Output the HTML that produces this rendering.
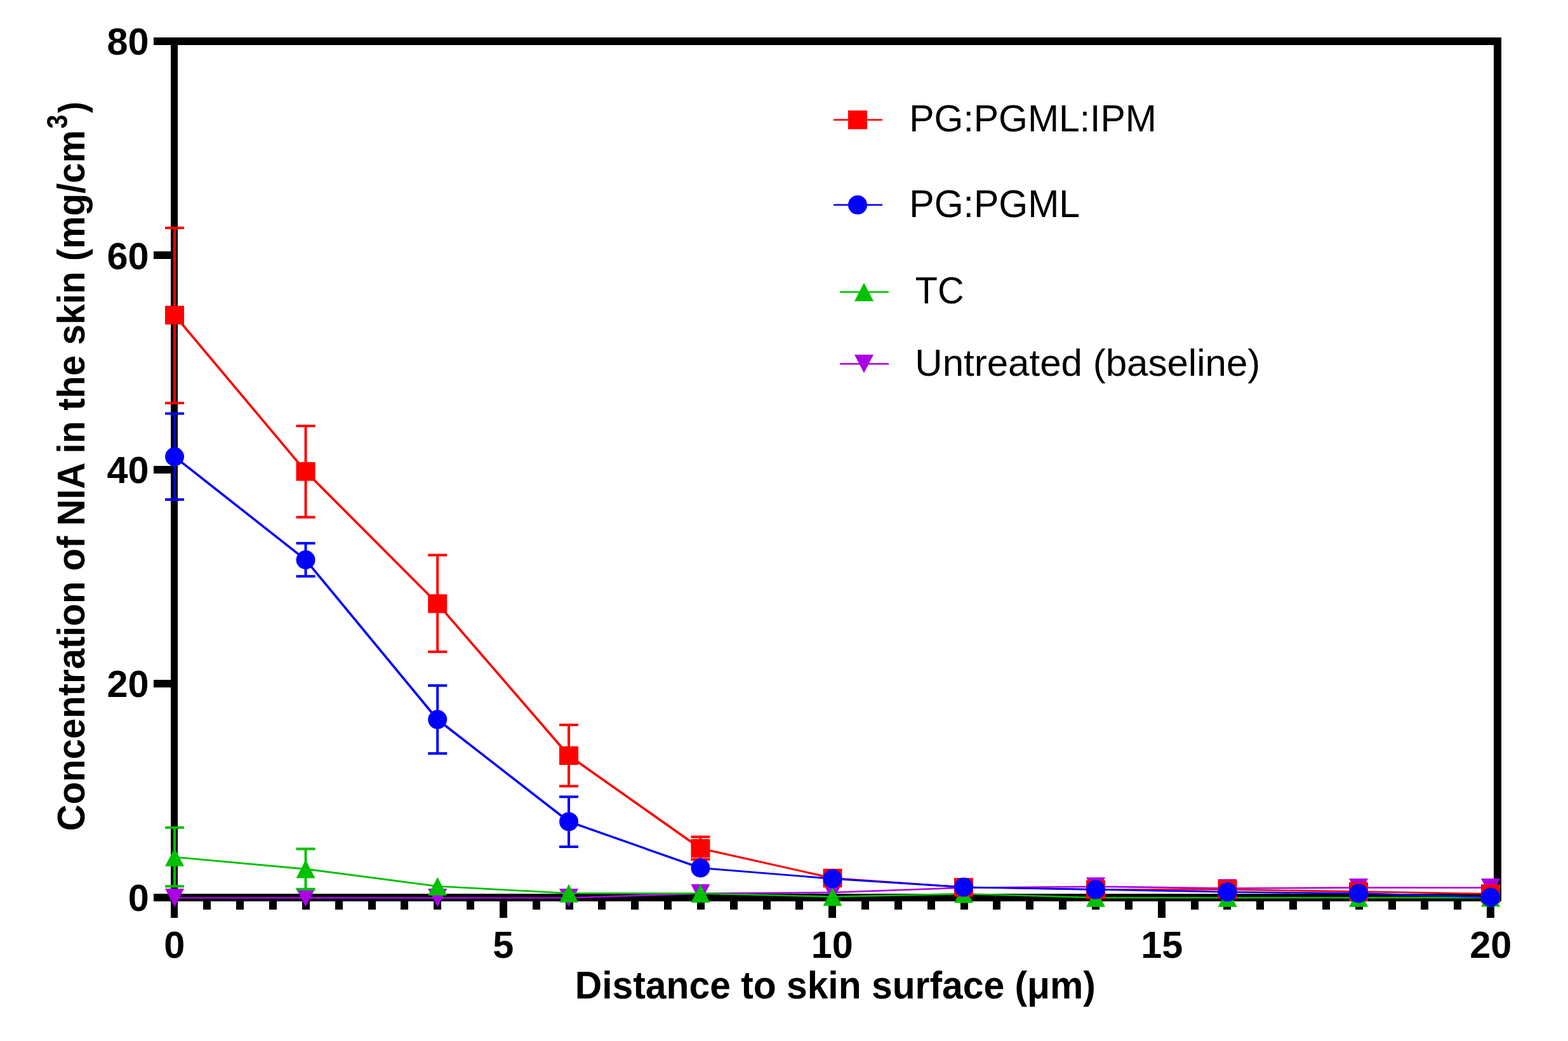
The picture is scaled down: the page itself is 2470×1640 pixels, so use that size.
<!DOCTYPE html>
<html><head><meta charset="utf-8"><title>NIA concentration in skin</title>
<style>
html,body{margin:0;padding:0;background:#fff;}
svg{display:block;}
</style></head>
<body>
<svg width="2470" height="1640" viewBox="0 0 2470 1640">
<rect width="2470" height="1640" fill="#fff"/>
<g shape-rendering="crispEdges">
<rect x="242" y="59" width="2123" height="12" fill="#000"/>
<rect x="2353" y="59" width="12" height="1361" fill="#000"/>
<rect x="242" y="1408" width="2123" height="12" fill="#000"/>
<rect x="269" y="59" width="11" height="1387" fill="#000"/>
<rect x="242" y="1070.8" width="30" height="12" fill="#000"/>
<rect x="242" y="733.5" width="30" height="12" fill="#000"/>
<rect x="242" y="396.2" width="30" height="12" fill="#000"/>
<rect x="320.3" y="1414" width="12" height="19" fill="#000"/>
<rect x="372.2" y="1414" width="12" height="19" fill="#000"/>
<rect x="424.0" y="1414" width="12" height="19" fill="#000"/>
<rect x="475.9" y="1414" width="12" height="19" fill="#000"/>
<rect x="527.7" y="1414" width="12" height="19" fill="#000"/>
<rect x="579.5" y="1414" width="12" height="19" fill="#000"/>
<rect x="631.4" y="1414" width="12" height="19" fill="#000"/>
<rect x="683.2" y="1414" width="12" height="19" fill="#000"/>
<rect x="735.0" y="1414" width="12" height="19" fill="#000"/>
<rect x="786.9" y="1414" width="12" height="32" fill="#000"/>
<rect x="838.7" y="1414" width="12" height="19" fill="#000"/>
<rect x="890.5" y="1414" width="12" height="19" fill="#000"/>
<rect x="942.4" y="1414" width="12" height="19" fill="#000"/>
<rect x="994.2" y="1414" width="12" height="19" fill="#000"/>
<rect x="1046.1" y="1414" width="12" height="19" fill="#000"/>
<rect x="1097.9" y="1414" width="12" height="19" fill="#000"/>
<rect x="1149.7" y="1414" width="12" height="19" fill="#000"/>
<rect x="1201.6" y="1414" width="12" height="19" fill="#000"/>
<rect x="1253.4" y="1414" width="12" height="19" fill="#000"/>
<rect x="1305.2" y="1414" width="12" height="32" fill="#000"/>
<rect x="1357.1" y="1414" width="12" height="19" fill="#000"/>
<rect x="1408.9" y="1414" width="12" height="19" fill="#000"/>
<rect x="1460.8" y="1414" width="12" height="19" fill="#000"/>
<rect x="1512.6" y="1414" width="12" height="19" fill="#000"/>
<rect x="1564.4" y="1414" width="12" height="19" fill="#000"/>
<rect x="1616.3" y="1414" width="12" height="19" fill="#000"/>
<rect x="1668.1" y="1414" width="12" height="19" fill="#000"/>
<rect x="1720.0" y="1414" width="12" height="19" fill="#000"/>
<rect x="1771.8" y="1414" width="12" height="19" fill="#000"/>
<rect x="1823.6" y="1414" width="12" height="32" fill="#000"/>
<rect x="1875.5" y="1414" width="12" height="19" fill="#000"/>
<rect x="1927.3" y="1414" width="12" height="19" fill="#000"/>
<rect x="1979.1" y="1414" width="12" height="19" fill="#000"/>
<rect x="2031.0" y="1414" width="12" height="19" fill="#000"/>
<rect x="2082.8" y="1414" width="12" height="19" fill="#000"/>
<rect x="2134.6" y="1414" width="12" height="19" fill="#000"/>
<rect x="2186.5" y="1414" width="12" height="19" fill="#000"/>
<rect x="2238.3" y="1414" width="12" height="19" fill="#000"/>
<rect x="2290.2" y="1414" width="12" height="19" fill="#000"/>
<rect x="2342.0" y="1414" width="12" height="32" fill="#000"/>
</g>
<g>
<path d="M273.70,1413.20 L480.20,1413.00 L482.80,1413.00 L482.80,1415.60 L276.30,1415.80 L273.70,1415.80Z M480.20,1413.00 L482.80,1413.00 L690.50,1413.30 L690.50,1415.90 L687.90,1415.90 L480.20,1415.60Z M687.90,1413.30 L894.70,1413.20 L897.30,1413.20 L897.30,1415.80 L690.50,1415.90 L687.90,1415.90Z M894.70,1413.20 L1102.10,1406.30 L1104.70,1406.30 L1104.70,1408.90 L897.30,1415.80 L894.70,1415.80Z M1102.10,1406.30 L1310.20,1404.70 L1312.80,1404.70 L1312.80,1407.30 L1104.70,1408.90 L1102.10,1408.90Z M1310.20,1404.70 L1516.70,1397.20 L1519.30,1397.20 L1519.30,1399.80 L1312.80,1407.30 L1310.20,1407.30Z M1516.70,1397.20 L1724.70,1395.40 L1727.30,1395.40 L1727.30,1398.00 L1519.30,1399.80 L1516.70,1399.80Z M1724.70,1395.40 L1727.30,1395.40 L1934.80,1398.20 L1934.80,1400.80 L1932.20,1400.80 L1724.70,1398.00Z M1932.20,1398.20 L2138.70,1397.10 L2141.30,1397.10 L2141.30,1399.70 L1934.80,1400.80 L1932.20,1400.80Z M2138.70,1397.10 L2141.30,1397.10 L2349.30,1397.20 L2349.30,1399.80 L2346.70,1399.80 L2138.70,1399.70Z" fill="#aa00e6"/>
<polygon points="260.0,1400.0 290.0,1400.0 275.0,1429.0" fill="#aa00e6"/>
<polygon points="466.5,1399.8 496.5,1399.8 481.5,1428.8" fill="#aa00e6"/>
<polygon points="674.2,1400.1 704.2,1400.1 689.2,1429.1" fill="#aa00e6"/>
<polygon points="881.0,1400.0 911.0,1400.0 896.0,1429.0" fill="#aa00e6"/>
<polygon points="1088.4,1393.1 1118.4,1393.1 1103.4,1422.1" fill="#aa00e6"/>
<polygon points="1296.5,1391.5 1326.5,1391.5 1311.5,1420.5" fill="#aa00e6"/>
<polygon points="1503.0,1384.0 1533.0,1384.0 1518.0,1413.0" fill="#aa00e6"/>
<polygon points="1711.0,1382.2 1741.0,1382.2 1726.0,1411.2" fill="#aa00e6"/>
<polygon points="1918.5,1385.0 1948.5,1385.0 1933.5,1414.0" fill="#aa00e6"/>
<polygon points="2125.0,1383.9 2155.0,1383.9 2140.0,1412.9" fill="#aa00e6"/>
<polygon points="2333.0,1384.0 2363.0,1384.0 2348.0,1413.0" fill="#aa00e6"/>
<path d="M273.70,1348.90 L276.30,1348.90 L482.80,1367.80 L482.80,1370.40 L480.20,1370.40 L273.70,1351.50Z M480.20,1367.80 L482.80,1367.80 L690.50,1394.90 L690.50,1397.50 L687.90,1397.50 L480.20,1370.40Z M687.90,1394.90 L690.50,1394.90 L897.30,1405.90 L897.30,1408.50 L894.70,1408.50 L687.90,1397.50Z M894.70,1405.90 L897.30,1405.90 L1104.70,1406.20 L1104.70,1408.80 L1102.10,1408.80 L894.70,1408.50Z M1102.10,1406.20 L1104.70,1406.20 L1312.80,1411.40 L1312.80,1414.00 L1310.20,1414.00 L1102.10,1408.80Z M1310.20,1411.40 L1516.70,1406.80 L1519.30,1406.80 L1519.30,1409.40 L1312.80,1414.00 L1310.20,1414.00Z M1516.70,1406.80 L1519.30,1406.80 L1727.30,1413.00 L1727.30,1415.60 L1724.70,1415.60 L1516.70,1409.40Z M1724.70,1413.00 L1934.80,1413.00 L1934.80,1415.60 L1724.70,1415.60Z M1932.20,1413.00 L2141.30,1413.00 L2141.30,1415.60 L1932.20,1415.60Z M2138.70,1413.00 L2346.70,1412.70 L2349.30,1412.70 L2349.30,1415.30 L2141.30,1415.60 L2138.70,1415.60Z" fill="#00c000"/>
<line x1="275.0" y1="1303.8" x2="275.0" y2="1396.3" stroke="#00c000" stroke-width="4"/>
<rect x="260.0" y="1301.8" width="30" height="4" fill="#00c000"/>
<rect x="260.0" y="1394.3" width="30" height="4" fill="#00c000"/>
<polygon points="275.0,1335.7 290.0,1364.7 260.0,1364.7" fill="#00c000"/>
<line x1="481.5" y1="1337.4" x2="481.5" y2="1400.7" stroke="#00c000" stroke-width="4"/>
<rect x="466.5" y="1335.4" width="30" height="4" fill="#00c000"/>
<rect x="466.5" y="1398.7" width="30" height="4" fill="#00c000"/>
<polygon points="481.5,1354.6 496.5,1383.6 466.5,1383.6" fill="#00c000"/>
<polygon points="689.2,1381.7 704.2,1410.7 674.2,1410.7" fill="#00c000"/>
<polygon points="896.0,1392.7 911.0,1421.7 881.0,1421.7" fill="#00c000"/>
<polygon points="1103.4,1393.0 1118.4,1422.0 1088.4,1422.0" fill="#00c000"/>
<polygon points="1311.5,1398.2 1326.5,1427.2 1296.5,1427.2" fill="#00c000"/>
<polygon points="1518.0,1393.6 1533.0,1422.6 1503.0,1422.6" fill="#00c000"/>
<polygon points="1726.0,1399.8 1741.0,1428.8 1711.0,1428.8" fill="#00c000"/>
<polygon points="1933.5,1399.8 1948.5,1428.8 1918.5,1428.8" fill="#00c000"/>
<polygon points="2140.0,1399.8 2155.0,1428.8 2125.0,1428.8" fill="#00c000"/>
<polygon points="2348.0,1399.5 2363.0,1428.5 2333.0,1428.5" fill="#00c000"/>
<path d="M273.70,495.20 L276.30,495.20 L482.80,741.50 L482.80,744.10 L480.20,744.10 L273.70,497.80Z M480.20,741.50 L482.80,741.50 L690.50,949.70 L690.50,952.30 L687.90,952.30 L480.20,744.10Z M687.90,949.70 L690.50,949.70 L897.30,1189.10 L897.30,1191.70 L894.70,1191.70 L687.90,952.30Z M894.70,1189.10 L897.30,1189.10 L1104.70,1335.30 L1104.70,1337.90 L1102.10,1337.90 L894.70,1191.70Z M1102.10,1335.30 L1104.70,1335.30 L1312.80,1382.10 L1312.80,1384.70 L1310.20,1384.70 L1102.10,1337.90Z M1310.20,1382.10 L1312.80,1382.10 L1519.30,1396.60 L1519.30,1399.20 L1516.70,1399.20 L1310.20,1384.70Z M1516.70,1396.60 L1519.30,1396.60 L1727.30,1400.10 L1727.30,1402.70 L1724.70,1402.70 L1516.70,1399.20Z M1724.70,1400.10 L1934.80,1400.10 L1934.80,1402.70 L1724.70,1402.70Z M1932.20,1400.10 L1934.80,1400.10 L2141.30,1403.30 L2141.30,1405.90 L2138.70,1405.90 L1932.20,1402.70Z M2138.70,1403.30 L2141.30,1403.30 L2349.30,1406.70 L2349.30,1409.30 L2346.70,1409.30 L2138.70,1405.90Z" fill="#ff0000"/>
<line x1="275.0" y1="359.0" x2="275.0" y2="635.0" stroke="#ff0000" stroke-width="4"/>
<rect x="260.0" y="357.0" width="30" height="4" fill="#ff0000"/>
<rect x="260.0" y="633.0" width="30" height="4" fill="#ff0000"/>
<rect x="260.00" y="481.75" width="30" height="29.5" fill="#ff0000"/>
<line x1="481.5" y1="671.0" x2="481.5" y2="814.8" stroke="#ff0000" stroke-width="4"/>
<rect x="466.5" y="669.0" width="30" height="4" fill="#ff0000"/>
<rect x="466.5" y="812.8" width="30" height="4" fill="#ff0000"/>
<rect x="466.50" y="728.05" width="30" height="29.5" fill="#ff0000"/>
<line x1="689.2" y1="874.5" x2="689.2" y2="1026.8" stroke="#ff0000" stroke-width="4"/>
<rect x="674.2" y="872.5" width="30" height="4" fill="#ff0000"/>
<rect x="674.2" y="1024.8" width="30" height="4" fill="#ff0000"/>
<rect x="674.20" y="936.25" width="30" height="29.5" fill="#ff0000"/>
<line x1="896.0" y1="1142.0" x2="896.0" y2="1238.5" stroke="#ff0000" stroke-width="4"/>
<rect x="881.0" y="1140.0" width="30" height="4" fill="#ff0000"/>
<rect x="881.0" y="1236.5" width="30" height="4" fill="#ff0000"/>
<rect x="881.00" y="1175.65" width="30" height="29.5" fill="#ff0000"/>
<line x1="1103.4" y1="1318.4" x2="1103.4" y2="1354.0" stroke="#ff0000" stroke-width="4"/>
<rect x="1088.4" y="1316.4" width="30" height="4" fill="#ff0000"/>
<rect x="1088.4" y="1352.0" width="30" height="4" fill="#ff0000"/>
<rect x="1088.40" y="1321.85" width="30" height="29.5" fill="#ff0000"/>
<rect x="1296.50" y="1368.65" width="30" height="29.5" fill="#ff0000"/>
<rect x="1503.00" y="1383.15" width="30" height="29.5" fill="#ff0000"/>
<rect x="1711.00" y="1386.65" width="30" height="29.5" fill="#ff0000"/>
<rect x="1918.50" y="1386.65" width="30" height="29.5" fill="#ff0000"/>
<rect x="2125.00" y="1389.85" width="30" height="29.5" fill="#ff0000"/>
<rect x="2333.00" y="1393.25" width="30" height="29.5" fill="#ff0000"/>
<path d="M273.70,718.20 L276.30,718.20 L482.80,880.70 L482.80,883.30 L480.20,883.30 L273.70,720.80Z M480.20,880.70 L482.80,880.70 L690.50,1132.30 L690.50,1134.90 L687.90,1134.90 L480.20,883.30Z M687.90,1132.30 L690.50,1132.30 L897.30,1293.10 L897.30,1295.70 L894.70,1295.70 L687.90,1134.90Z M894.70,1293.10 L897.30,1293.10 L1104.70,1366.10 L1104.70,1368.70 L1102.10,1368.70 L894.70,1295.70Z M1102.10,1366.10 L1104.70,1366.10 L1312.80,1383.10 L1312.80,1385.70 L1310.20,1385.70 L1102.10,1368.70Z M1310.20,1383.10 L1312.80,1383.10 L1519.30,1396.30 L1519.30,1398.90 L1516.70,1398.90 L1310.20,1385.70Z M1516.70,1396.30 L1519.30,1396.30 L1727.30,1400.10 L1727.30,1402.70 L1724.70,1402.70 L1516.70,1398.90Z M1724.70,1400.10 L1727.30,1400.10 L1934.80,1404.00 L1934.80,1406.60 L1932.20,1406.60 L1724.70,1402.70Z M1932.20,1404.00 L1934.80,1404.00 L2141.30,1406.10 L2141.30,1408.70 L2138.70,1408.70 L1932.20,1406.60Z M2138.70,1406.10 L2141.30,1406.10 L2349.30,1412.20 L2349.30,1414.80 L2346.70,1414.80 L2138.70,1408.70Z" fill="#0000ff"/>
<line x1="275.0" y1="651.5" x2="275.0" y2="787.0" stroke="#0000ff" stroke-width="4"/>
<rect x="260.0" y="649.5" width="30" height="4" fill="#0000ff"/>
<rect x="260.0" y="785.0" width="30" height="4" fill="#0000ff"/>
<circle cx="275.0" cy="719.5" r="15.0" fill="#0000ff"/>
<line x1="481.5" y1="855.8" x2="481.5" y2="907.9" stroke="#0000ff" stroke-width="4"/>
<rect x="466.5" y="853.8" width="30" height="4" fill="#0000ff"/>
<rect x="466.5" y="905.9" width="30" height="4" fill="#0000ff"/>
<circle cx="481.5" cy="882.0" r="15.0" fill="#0000ff"/>
<line x1="689.2" y1="1080.0" x2="689.2" y2="1187.0" stroke="#0000ff" stroke-width="4"/>
<rect x="674.2" y="1078.0" width="30" height="4" fill="#0000ff"/>
<rect x="674.2" y="1185.0" width="30" height="4" fill="#0000ff"/>
<circle cx="689.2" cy="1133.6" r="15.0" fill="#0000ff"/>
<line x1="896.0" y1="1255.3" x2="896.0" y2="1334.0" stroke="#0000ff" stroke-width="4"/>
<rect x="881.0" y="1253.3" width="30" height="4" fill="#0000ff"/>
<rect x="881.0" y="1332.0" width="30" height="4" fill="#0000ff"/>
<circle cx="896.0" cy="1294.4" r="15.0" fill="#0000ff"/>
<circle cx="1103.4" cy="1367.4" r="15.0" fill="#0000ff"/>
<circle cx="1311.5" cy="1384.4" r="15.0" fill="#0000ff"/>
<circle cx="1518.0" cy="1397.6" r="15.0" fill="#0000ff"/>
<circle cx="1726.0" cy="1401.4" r="15.0" fill="#0000ff"/>
<circle cx="1933.5" cy="1405.3" r="15.0" fill="#0000ff"/>
<circle cx="2140.0" cy="1407.4" r="15.0" fill="#0000ff"/>
<circle cx="2348.0" cy="1413.5" r="15.0" fill="#0000ff"/>
</g>
<g>
<rect x="1313.0" y="187.5" width="77" height="2.6" fill="#ff0000"/>
<rect x="1336.00" y="174.05" width="30" height="29.5" fill="#ff0000"/>
<rect x="1313.0" y="321.5" width="77" height="2.6" fill="#0000ff"/>
<circle cx="1351.0" cy="322.8" r="15.0" fill="#0000ff"/>
<rect x="1323.0" y="458.7" width="77" height="2.6" fill="#00c000"/>
<polygon points="1361.0,445.5 1376.0,474.5 1346.0,474.5" fill="#00c000"/>
<rect x="1323.0" y="571.9" width="77" height="2.6" fill="#aa00e6"/>
<polygon points="1346.0,558.7 1376.0,558.7 1361.0,587.7" fill="#aa00e6"/>
<text transform="matrix(0.58930 0 0 0.59420 1432.29 207.00)" style="font-family:'Liberation Sans',Arial,sans-serif;font-weight:normal;font-size:100px">PG:PGML:IPM</text>
<text transform="matrix(0.59009 0 0 0.60725 1432.28 341.90)" style="font-family:'Liberation Sans',Arial,sans-serif;font-weight:normal;font-size:100px">PG:PGML</text>
<text transform="matrix(0.57638 0 0 0.59275 1441.75 477.90)" style="font-family:'Liberation Sans',Arial,sans-serif;font-weight:normal;font-size:100px">TC</text>
<text transform="matrix(0.60045 0 0 0.58841 1441.30 592.30)" style="font-family:'Liberation Sans',Arial,sans-serif;font-weight:normal;font-size:100px">Untreated (baseline)</text>
</g>
<g>
<text transform="matrix(0.594 0 0 0.594 201.81 1435.30)" style="font-family:'Liberation Sans',Arial,sans-serif;font-weight:bold;font-size:100px">0</text>
<text transform="matrix(0.594 0 0 0.594 168.54 1098.05)" style="font-family:'Liberation Sans',Arial,sans-serif;font-weight:bold;font-size:100px">20</text>
<text transform="matrix(0.594 0 0 0.594 168.54 760.80)" style="font-family:'Liberation Sans',Arial,sans-serif;font-weight:bold;font-size:100px">40</text>
<text transform="matrix(0.594 0 0 0.594 168.54 423.55)" style="font-family:'Liberation Sans',Arial,sans-serif;font-weight:bold;font-size:100px">60</text>
<text transform="matrix(0.594 0 0 0.594 168.54 86.30)" style="font-family:'Liberation Sans',Arial,sans-serif;font-weight:bold;font-size:100px">80</text>
<text transform="matrix(0.594 0 0 0.594 258.17 1508.6)" style="font-family:'Liberation Sans',Arial,sans-serif;font-weight:bold;font-size:100px">0</text>
<text transform="matrix(0.594 0 0 0.594 776.24 1508.6)" style="font-family:'Liberation Sans',Arial,sans-serif;font-weight:bold;font-size:100px">5</text>
<text transform="matrix(0.594 0 0 0.594 1277.69 1508.6)" style="font-family:'Liberation Sans',Arial,sans-serif;font-weight:bold;font-size:100px">10</text>
<text transform="matrix(0.594 0 0 0.594 1797.17 1508.6)" style="font-family:'Liberation Sans',Arial,sans-serif;font-weight:bold;font-size:100px">15</text>
<text transform="matrix(0.594 0 0 0.594 2315.33 1508.6)" style="font-family:'Liberation Sans',Arial,sans-serif;font-weight:bold;font-size:100px">20</text>
<text transform="matrix(0.58792 0 0 0.60580 905.78 1572.80)" style="font-family:'Liberation Sans',Arial,sans-serif;font-weight:bold;font-size:100px">Distance to skin surface (μm)</text>
<text transform="matrix(0 -0.58087 0.60704 0 133.39 1309.22)" style="font-family:'Liberation Sans',Arial,sans-serif;font-weight:bold;font-size:100px">Concentration of NIA in the skin (mg/cm</text>
<text transform="matrix(0 -0.40000 0.46338 0 106.44 202.70)" style="font-family:'Liberation Sans',Arial,sans-serif;font-weight:bold;font-size:100px">3</text>
<text transform="matrix(0 -0.53571 0.58511 0 133.71 178.00)" style="font-family:'Liberation Sans',Arial,sans-serif;font-weight:bold;font-size:100px">)</text>
</g>
</svg>
</body></html>
